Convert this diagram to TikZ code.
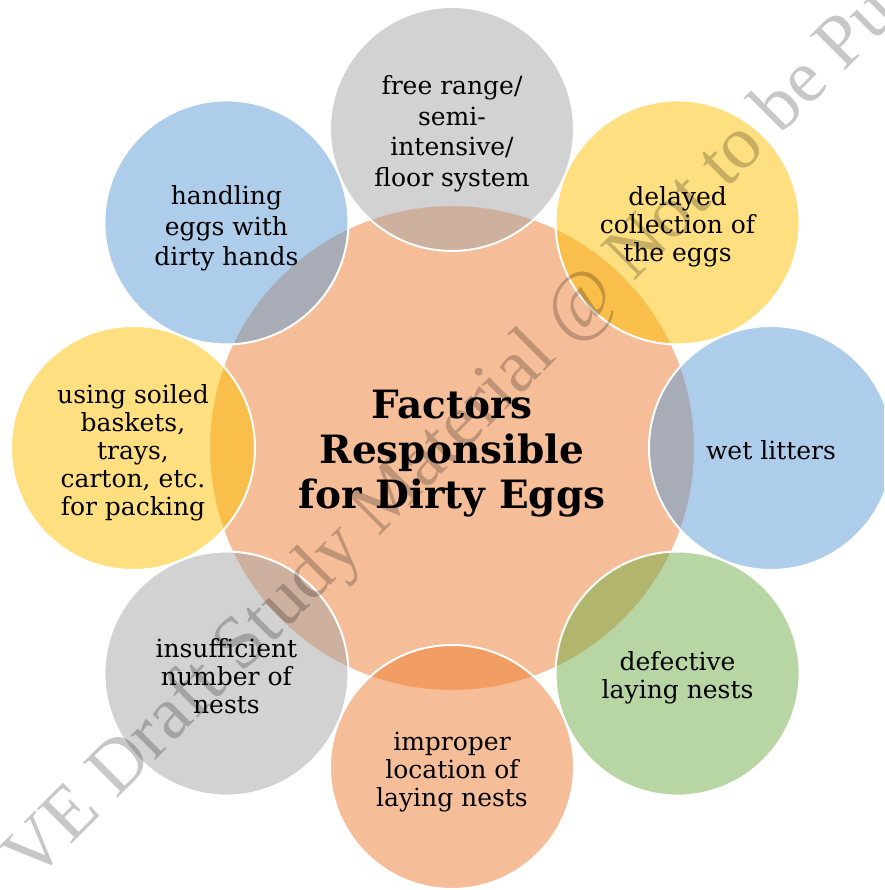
\documentclass[tikz,border=0pt]{standalone}
\usepackage{fontspec}
\setmainfont{DejaVu Serif}
\newfontfamily\wmfont{Liberation Serif}
\definecolor{offgrey}{HTML}{A5A5A5}
\definecolor{offblue}{HTML}{5B9BD5}
\definecolor{offgold}{HTML}{FFC000}
\definecolor{offgreen}{HTML}{70AD47}
\definecolor{offorange}{HTML}{ED7D31}
\begin{document}
\begin{tikzpicture}[x=1pt,y=1pt]
            \tikzset{
                factor/.style={circle, draw=white, line width=2pt, inner sep=0pt,
                    minimum size=244pt, fill opacity=0.5},
                hub/.style={factor, minimum size=486pt},
                tag/.style={align=center, inner sep=0pt, font=\fontsize{25}{28}\selectfont},
                loose/.style={font=\fontsize{25}{30.5}\selectfont},
                title/.style={tag, font=\fontsize{39}{45}\selectfont\bfseries},
                watermark/.style={font=\fontsize{75}{75}\selectfont\wmfont,
                    text=black, text opacity=0.22, rotate=45, anchor=base},}
            \clip (-452,-442) rectangle (432,448);
            % circles
            \node [hub, fill=offorange] (hub) at (0,0) {};
            \node [factor, fill=offgrey] (range) at (90:319) {};
            \node [factor, fill=offgold] (collect) at (45:319) {};
            \node [factor, fill=offblue] (litter) at (0:319) {};
            \node [factor, fill=offgreen] (defect) at (-45:319) {};
            \node [factor, fill=offorange] (locate) at (-90:319) {};
            \node [factor, fill=offgrey] (nests) at (-135:319) {};
            \node [factor, fill=offgold] (baskets) at (180:319) {};
            \node [factor, fill=offblue] (hands) at (135:319) {};
            % \draw [dotted] (-452,-442) grid[step=50] (432,448);
            \node [watermark] (wm) at (14,-2) {VE Draft Study Material @ Not to be Pu};
            % texts
            \node [title] (hubtext) at ([yshift=-6]hub.center) {Factors\\Responsible\\for Dirty Eggs};
            \node [tag, loose] (rangetext) at ([yshift=-5]range.center) {free range/\\semi-\\intensive/\\floor system};
            \node [tag] (collecttext) at ([yshift=-4]collect.center) {delayed\\collection of\\the eggs};
            \node [tag] (littertext) at ([yshift=-2]litter.center) {wet litters};
            \node [tag] (defecttext) at ([yshift=-4]defect.center) {defective\\laying nests};
            \node [tag] (locatetext) at ([yshift=-5]locate.center) {improper\\location of\\laying nests};
            \node [tag] (neststext) at ([yshift=-3]nests.center) {insufficient\\number of\\nests};
            \node [tag] (basketstext) at ([yshift=-5]baskets.center) {using soiled\\baskets,\\trays,\\carton, etc.\\for packing};
            \node [tag, loose] (handstext) at ([yshift=-6]hands.center) {handling\\eggs with\\dirty hands};
        \end{tikzpicture}
\end{document}
